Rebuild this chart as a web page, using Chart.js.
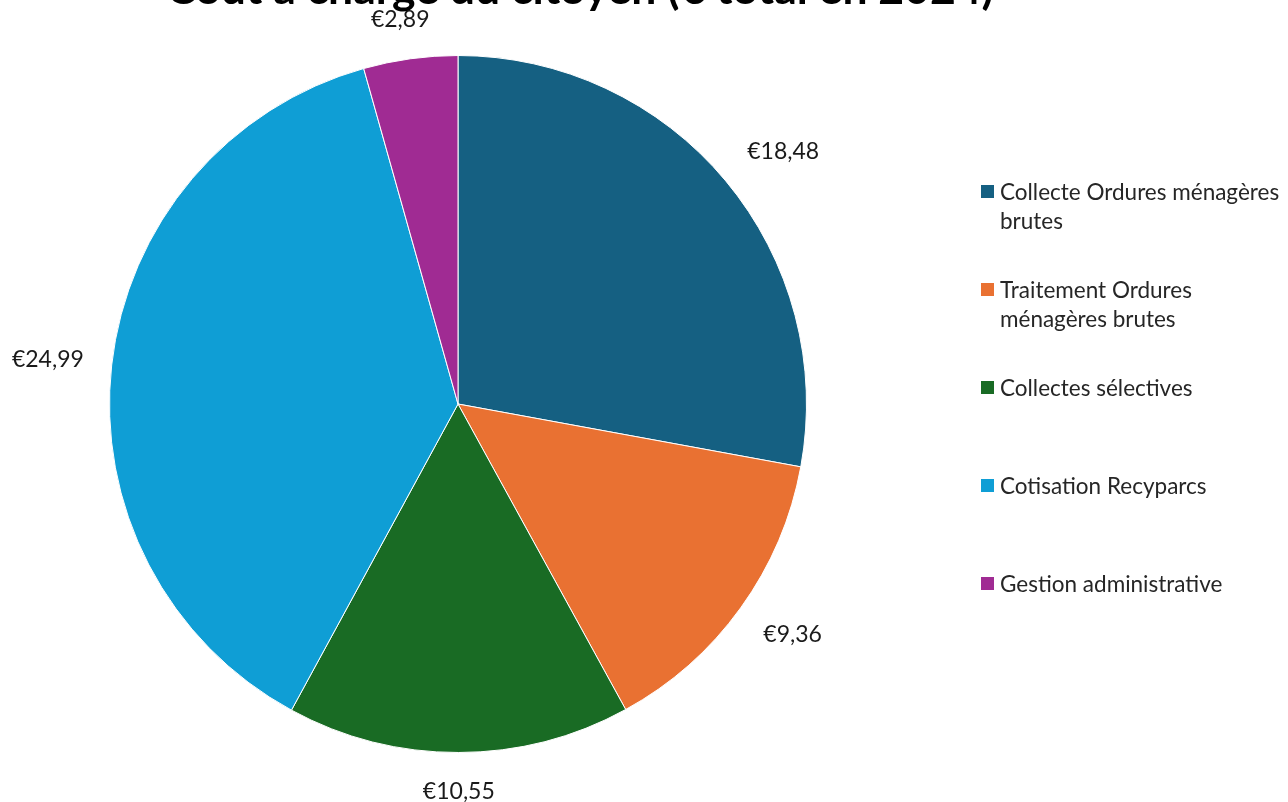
<!DOCTYPE html>
<html>
<head>
<meta charset="utf-8">
<script src="https://cdn.jsdelivr.net/npm/chart.js@4"></script>
<style>
  html,body{margin:0;padding:0;background:#fff;overflow:hidden;}
  #wrap{position:relative;width:1288px;height:802px;overflow:hidden;}
  #title{position:absolute;left:0;width:1160px;top:-40px;text-align:center;font-family:Lato,"Open Sans",sans-serif;font-weight:bold;font-size:44.5px;color:#000;white-space:nowrap;}
  #legend{position:absolute;left:981px;top:0;width:307px;font-family:Lato,"Open Sans",sans-serif;font-size:22.5px;color:#262626;}
  .item{position:absolute;left:0;display:flex;align-items:flex-start;}
  .sw{width:13px;height:13px;margin-top:8px;margin-right:6px;flex:none;}
  .txt{width:288px;line-height:29px;}
</style>
</head>
<body>
<div id="wrap">
  <canvas id="c" width="1288" height="802"></canvas>
  <div id="title"></div>
  <div id="legend"></div>
</div>
<script>
const chartTitle = "Coût à charge du citoyen (€ total en 2024)";
const categories = [
  "Collecte Ordures ménagères brutes",
  "Traitement Ordures ménagères brutes",
  "Collectes sélectives",
  "Cotisation Recyparcs",
  "Gestion administrative"
];
const values = [18.48, 9.36, 10.55, 24.99, 2.89];
const colors = ["#156082", "#E97132", "#196B24", "#0F9ED5", "#A02B93"];

document.getElementById('title').textContent = chartTitle;

const legend = document.getElementById('legend');
categories.forEach((c, i) => {
  const it = document.createElement('div');
  it.className = 'item';
  it.style.top = (177 + i * 98) + 'px';
  const sw = document.createElement('div');
  sw.className = 'sw';
  sw.style.background = colors[i];
  const tx = document.createElement('div');
  tx.className = 'txt';
  tx.textContent = c;
  it.appendChild(sw); it.appendChild(tx);
  legend.appendChild(it);
});

const fmt = v => '€' + v.toFixed(2).replace('.', ',');
const clamp1 = x => Math.max(-1, Math.min(1, x));

const outLabels = {
  id: 'outLabels',
  afterDatasetsDraw(chart) {
    const ctx = chart.ctx;
    const meta = chart.getDatasetMeta(0);
    ctx.save();
    ctx.font = '23px Lato, "Open Sans", sans-serif';
    ctx.fillStyle = '#1a1a1a';
    ctx.textAlign = 'center';
    ctx.textBaseline = 'middle';
    meta.data.forEach((arc, i) => {
      const p = arc.getProps(['x','y','startAngle','endAngle','outerRadius'], true);
      const mid = (p.startAngle + p.endAngle) / 2;
      const txt = fmt(values[i]);
      const w = ctx.measureText(txt).width;
      const h = 22;
      const c = Math.cos(mid), s = Math.sin(mid);
      const d = p.outerRadius + 28;
      const x = p.x + c * d + clamp1(c * 1.6) * w / 2;
      const y = p.y + s * d + clamp1(s * 1.6) * h / 2;
      ctx.fillText(txt, x, y);
    });
    ctx.restore();
  }
};

new Chart(document.getElementById('c'), {
  type: 'pie',
  data: {
    labels: categories,
    datasets: [{
      data: values,
      backgroundColor: colors,
      borderColor: '#ffffff',
      borderWidth: 1
    }]
  },
  options: {
    responsive: false,
    animation: false,
    layout: { padding: { left: 109, right: 481, top: 55, bottom: 49 } },
    plugins: {
      legend: { display: false },
      tooltip: { enabled: false },
      title: { display: false }
    }
  },
  plugins: [outLabels]
});
</script>
</body>
</html>
